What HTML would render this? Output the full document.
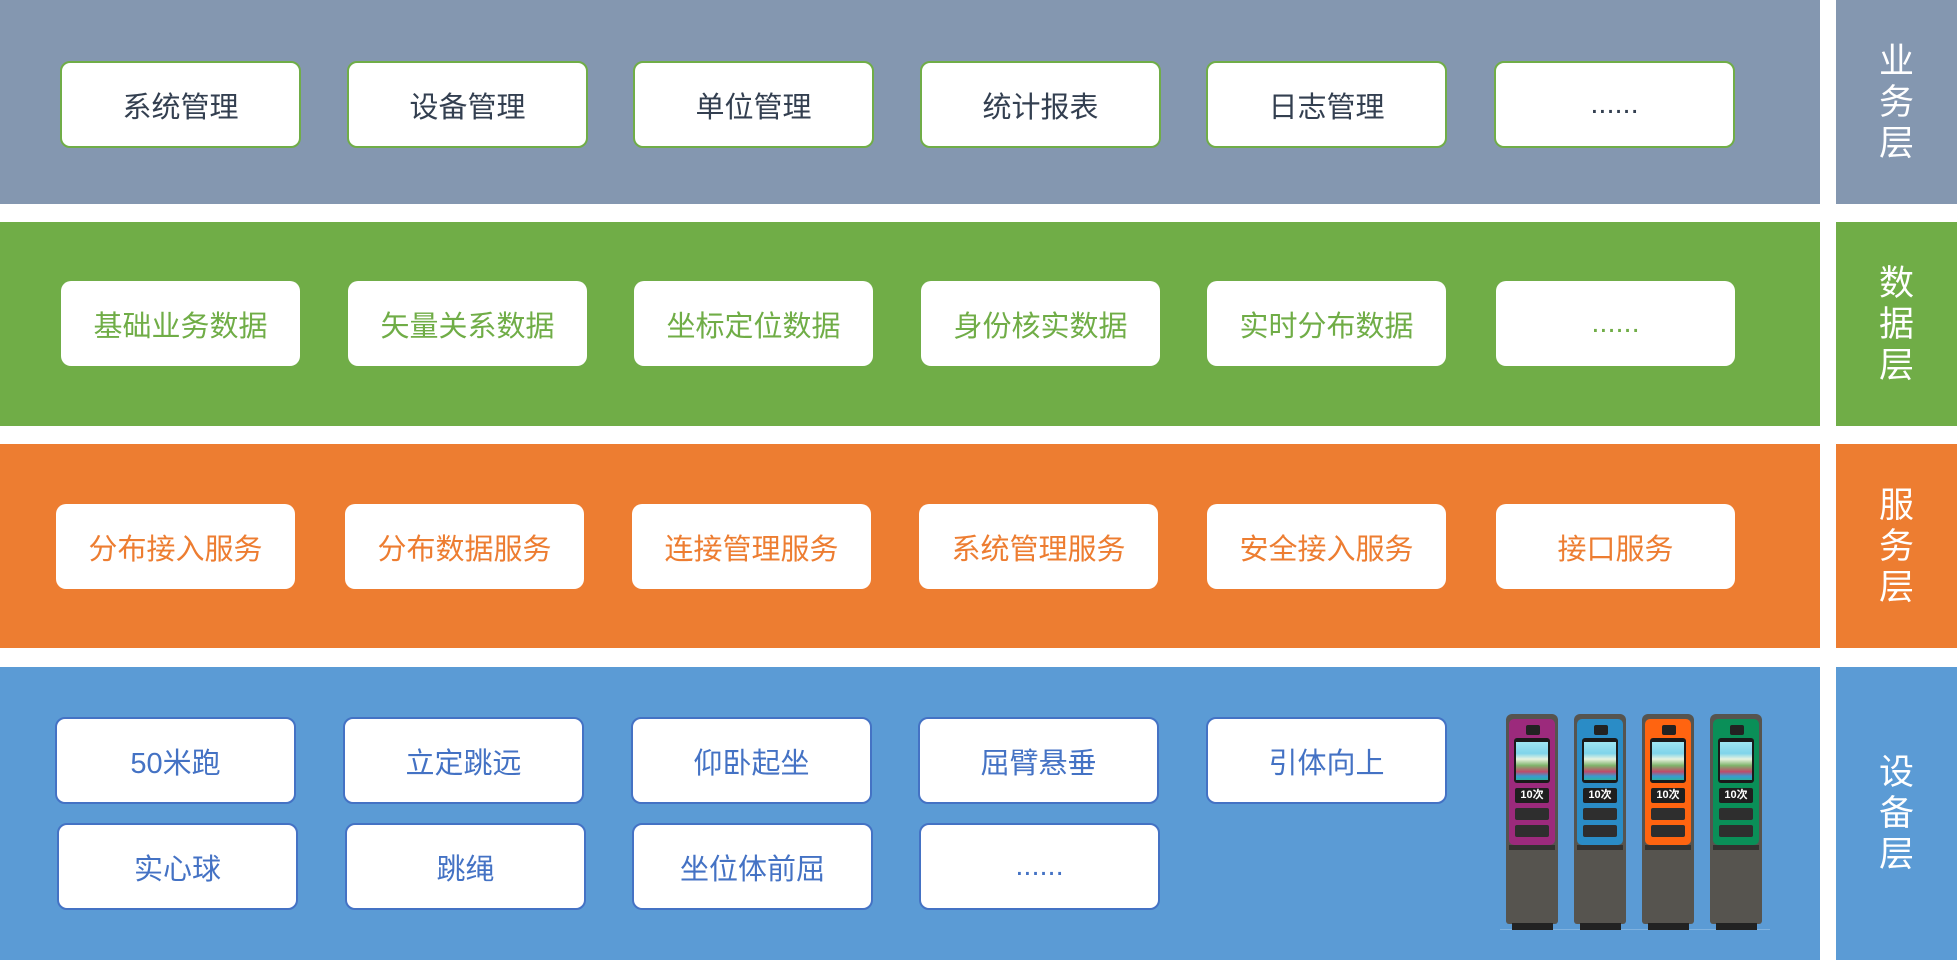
<!DOCTYPE html>
<html>
<head>
<meta charset="utf-8">
<style>
  html,body{margin:0;padding:0;}
  body{width:1957px;height:960px;position:relative;overflow:hidden;background:#ffffff;
       font-family:"Liberation Sans","Noto Sans CJK SC","WenQuanYi Zen Hei",sans-serif;}
  .band{position:absolute;left:0;width:1820px;}
  .lab{position:absolute;left:1836px;width:121px;display:flex;align-items:center;justify-content:center;
       color:#ffffff;font-size:35px;line-height:41px;text-align:center;}
  .box{position:absolute;background:#fff;border-radius:10px;display:flex;align-items:center;justify-content:center;
       font-size:29px;box-sizing:border-box;white-space:nowrap;}
  .r1{top:61px;height:87px;width:241px;border:2px solid #70ad47;color:#333f50;}
  .r2{top:281px;height:85px;width:239px;color:#70ad47;}
  .r3{top:504px;height:85px;width:239px;color:#ed7d31;}
  .r4{height:87px;width:241px;border:2px solid #4472c4;color:#4472c4;}
  .k{position:absolute;}
</style>
</head>
<body>
  <!-- bands -->
  <div class="band" style="top:0;height:204px;background:#8497b0;"></div>
  <div class="band" style="top:222px;height:204px;background:#70ad47;"></div>
  <div class="band" style="top:444px;height:204px;background:#ed7d31;"></div>
  <div class="band" style="top:667px;height:293px;background:#5b9bd5;"></div>

  <!-- labels -->
  <div class="lab" style="top:0;height:204px;background:#8497b0;">业<br>务<br>层</div>
  <div class="lab" style="top:222px;height:204px;background:#70ad47;">数<br>据<br>层</div>
  <div class="lab" style="top:444px;height:204px;background:#ed7d31;">服<br>务<br>层</div>
  <div class="lab" style="top:667px;height:293px;background:#5b9bd5;">设<br>备<br>层</div>

  <!-- row 1 -->
  <div class="box r1" style="left:60px;">系统管理</div>
  <div class="box r1" style="left:347px;">设备管理</div>
  <div class="box r1" style="left:633px;">单位管理</div>
  <div class="box r1" style="left:920px;">统计报表</div>
  <div class="box r1" style="left:1206px;">日志管理</div>
  <div class="box r1" style="left:1494px;">......</div>

  <!-- row 2 -->
  <div class="box r2" style="left:61px;">基础业务数据</div>
  <div class="box r2" style="left:348px;">矢量关系数据</div>
  <div class="box r2" style="left:634px;">坐标定位数据</div>
  <div class="box r2" style="left:921px;">身份核实数据</div>
  <div class="box r2" style="left:1207px;">实时分布数据</div>
  <div class="box r2" style="left:1496px;">......</div>

  <!-- row 3 -->
  <div class="box r3" style="left:56px;">分布接入服务</div>
  <div class="box r3" style="left:345px;">分布数据服务</div>
  <div class="box r3" style="left:632px;">连接管理服务</div>
  <div class="box r3" style="left:919px;">系统管理服务</div>
  <div class="box r3" style="left:1207px;">安全接入服务</div>
  <div class="box r3" style="left:1496px;">接口服务</div>

  <!-- row 4 -->
  <div class="box r4" style="left:55px;top:717px;">50米跑</div>
  <div class="box r4" style="left:343px;top:717px;">立定跳远</div>
  <div class="box r4" style="left:631px;top:717px;">仰卧起坐</div>
  <div class="box r4" style="left:918px;top:717px;">屈臂悬垂</div>
  <div class="box r4" style="left:1206px;top:717px;">引体向上</div>
  <div class="box r4" style="left:57px;top:823px;">实心球</div>
  <div class="box r4" style="left:345px;top:823px;">跳绳</div>
  <div class="box r4" style="left:632px;top:823px;">坐位体前屈</div>
  <div class="box r4" style="left:919px;top:823px;">......</div>

  <!-- kiosks -->
  <div style="position:absolute;left:1500px;top:929px;width:270px;height:1px;background:#7fb2e0;"></div>

  <!-- 1 purple -->
  <div class="k" style="left:1506px;top:714px;width:52px;height:210px;background:#56544f;border-radius:6px 6px 3px 3px;"></div>
  <div class="k" style="left:1512px;top:923px;width:41px;height:7px;background:#222;"></div>
  <div class="k" style="left:1509px;top:719px;width:46px;height:126px;background:#9c2a7c;border-radius:5px;"></div>
  <div class="k" style="left:1509px;top:845px;width:46px;height:5px;background:#333230;"></div>
  <div class="k" style="left:1526px;top:725px;width:14px;height:10px;background:#222;border-radius:2px;"></div>
  <div class="k" style="left:1514px;top:738px;width:36px;height:45px;background:#1a1a1a;border-radius:3px;"></div>
  <div class="k" style="left:1516px;top:742px;width:32px;height:38px;background:linear-gradient(180deg,#9fe6f2 0%,#7fd4ea 30%,#e8f3e0 45%,#7fb36a 62%,#c04a6a 78%,#3a9ad0 90%,#2bb0a0 100%);"></div>
  <div class="k" style="left:1515px;top:788px;width:34px;height:15px;background:#1f1f1f;border-radius:2px;color:#fff;font-size:11px;font-weight:bold;line-height:15px;text-align:center;">10次</div>
  <div class="k" style="left:1515px;top:808px;width:34px;height:12px;background:#2e2e2e;border-radius:2px;"></div>
  <div class="k" style="left:1515px;top:825px;width:34px;height:12px;background:#2e2e2e;border-radius:2px;"></div>

  <!-- 2 blue -->
  <div class="k" style="left:1574px;top:714px;width:52px;height:210px;background:#56544f;border-radius:6px 6px 3px 3px;"></div>
  <div class="k" style="left:1580px;top:923px;width:41px;height:7px;background:#222;"></div>
  <div class="k" style="left:1577px;top:719px;width:46px;height:126px;background:#2a8cc6;border-radius:5px;"></div>
  <div class="k" style="left:1577px;top:845px;width:46px;height:5px;background:#333230;"></div>
  <div class="k" style="left:1594px;top:725px;width:14px;height:10px;background:#222;border-radius:2px;"></div>
  <div class="k" style="left:1582px;top:738px;width:36px;height:45px;background:#1a1a1a;border-radius:3px;"></div>
  <div class="k" style="left:1584px;top:742px;width:32px;height:38px;background:linear-gradient(180deg,#9fe6f2 0%,#7fd4ea 30%,#e8f3e0 45%,#7fb36a 62%,#c04a6a 78%,#3a9ad0 90%,#2bb0a0 100%);"></div>
  <div class="k" style="left:1583px;top:788px;width:34px;height:15px;background:#1f1f1f;border-radius:2px;color:#fff;font-size:11px;font-weight:bold;line-height:15px;text-align:center;">10次</div>
  <div class="k" style="left:1583px;top:808px;width:34px;height:12px;background:#2e2e2e;border-radius:2px;"></div>
  <div class="k" style="left:1583px;top:825px;width:34px;height:12px;background:#2e2e2e;border-radius:2px;"></div>

  <!-- 3 orange -->
  <div class="k" style="left:1642px;top:714px;width:52px;height:210px;background:#56544f;border-radius:6px 6px 3px 3px;"></div>
  <div class="k" style="left:1648px;top:923px;width:41px;height:7px;background:#222;"></div>
  <div class="k" style="left:1645px;top:719px;width:46px;height:126px;background:#ff6410;border-radius:5px;"></div>
  <div class="k" style="left:1645px;top:845px;width:46px;height:5px;background:#333230;"></div>
  <div class="k" style="left:1662px;top:725px;width:14px;height:10px;background:#222;border-radius:2px;"></div>
  <div class="k" style="left:1650px;top:738px;width:36px;height:45px;background:#1a1a1a;border-radius:3px;"></div>
  <div class="k" style="left:1652px;top:742px;width:32px;height:38px;background:linear-gradient(180deg,#9fe6f2 0%,#7fd4ea 30%,#e8f3e0 45%,#7fb36a 62%,#c04a6a 78%,#3a9ad0 90%,#2bb0a0 100%);"></div>
  <div class="k" style="left:1651px;top:788px;width:34px;height:15px;background:#1f1f1f;border-radius:2px;color:#fff;font-size:11px;font-weight:bold;line-height:15px;text-align:center;">10次</div>
  <div class="k" style="left:1651px;top:808px;width:34px;height:12px;background:#2e2e2e;border-radius:2px;"></div>
  <div class="k" style="left:1651px;top:825px;width:34px;height:12px;background:#2e2e2e;border-radius:2px;"></div>

  <!-- 4 green -->
  <div class="k" style="left:1710px;top:714px;width:52px;height:210px;background:#56544f;border-radius:6px 6px 3px 3px;"></div>
  <div class="k" style="left:1716px;top:923px;width:41px;height:7px;background:#222;"></div>
  <div class="k" style="left:1713px;top:719px;width:46px;height:126px;background:#0a8f58;border-radius:5px;"></div>
  <div class="k" style="left:1713px;top:845px;width:46px;height:5px;background:#333230;"></div>
  <div class="k" style="left:1730px;top:725px;width:14px;height:10px;background:#222;border-radius:2px;"></div>
  <div class="k" style="left:1718px;top:738px;width:36px;height:45px;background:#1a1a1a;border-radius:3px;"></div>
  <div class="k" style="left:1720px;top:742px;width:32px;height:38px;background:linear-gradient(180deg,#9fe6f2 0%,#7fd4ea 30%,#e8f3e0 45%,#7fb36a 62%,#c04a6a 78%,#3a9ad0 90%,#2bb0a0 100%);"></div>
  <div class="k" style="left:1719px;top:788px;width:34px;height:15px;background:#1f1f1f;border-radius:2px;color:#fff;font-size:11px;font-weight:bold;line-height:15px;text-align:center;">10次</div>
  <div class="k" style="left:1719px;top:808px;width:34px;height:12px;background:#2e2e2e;border-radius:2px;"></div>
  <div class="k" style="left:1719px;top:825px;width:34px;height:12px;background:#2e2e2e;border-radius:2px;"></div>
</body>
</html>
